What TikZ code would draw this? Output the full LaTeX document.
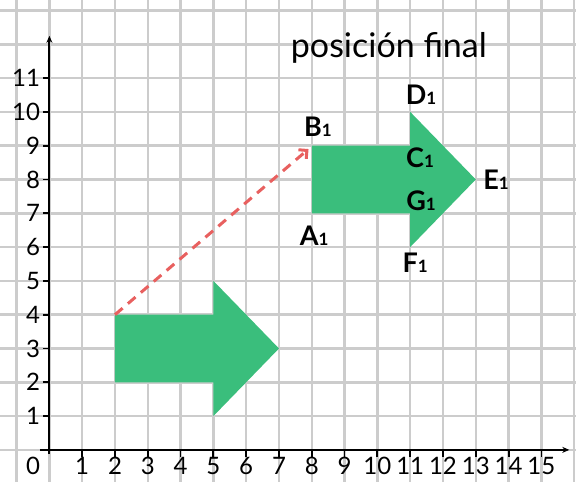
\documentclass[tikz,border=0pt]{standalone}
\usepackage{fontspec}
\setmainfont{Lato}
\usetikzlibrary{arrows.meta}
\definecolor{arrowgreen}{RGB}{58,190,124}
\definecolor{dashred}{RGB}{232,96,95}
\definecolor{gridgray}{RGB}{204,204,204}
\newcommand{\ptlab}[1]{\textbf{#1{\fontsize{17}{17}\selectfont 1}}}
\tikzset{
  gridline/.style={gridgray, line width=2.5pt},
  axisline/.style={black, line width=1.8pt},
  ticklab/.style={font=\fontsize{24}{24}\selectfont, inner sep=0pt},
  vertlab/.style={font=\fontsize{27}{27}\selectfont, inner sep=0pt},
  shapefill/.style={fill=arrowgreen, draw=none},
  translate/.style={dashred, line width=3pt, dash pattern=on 10pt off 7pt, -{Straight Barb[length=6pt,width=12pt,line width=3pt]}}
}
\begin{document}
\begin{tikzpicture}[x=32.8pt,y=33.8pt]
\useasboundingbox (-1.506,-0.923) rectangle (16.055,13.31);
% grid
\foreach \i in {-1,...,16} \draw[gridline] (\i,-1) -- (\i,13.4);
\foreach \j in {-1,...,13} \draw[gridline] (-1.6,\j) -- (16.1,\j);
% shapes
\fill[shapefill] (2,2) -- (5,2) -- (5,1) -- (7,3) -- (5,5) -- (5,4) -- (2,4) -- cycle;
\fill[shapefill] (8,7) -- (11,7) -- (11,6) -- (13,8) -- (11,10) -- (11,9) -- (8,9) -- cycle;
% axes
\coordinate (xs) at (-0.29,0);
\coordinate (xe) at (15.85,0);
\coordinate (ys) at (0,-0.12);
\coordinate (ye) at (0,12.25);
\draw[axisline, -{Stealth[length=7pt,width=6pt]}] (xs) -- (xe);
\draw[axisline, -{Stealth[length=7pt,width=6pt]}] (ys) -- (ye);
\foreach \i in {1,...,15} {
  \draw[axisline] (\i,0) -- (\i,-0.2);
  \node[ticklab] at (\i,-0.47) {\i};
}
\foreach \j in {1,...,11} {
  \draw[axisline] (0,\j) -- (-0.2,\j);
  \node[ticklab, anchor=east] at (-0.28,\j) {\j};
}
\node[ticklab] (o) at (-0.5,-0.47) {0};
% translation vector
\coordinate (p0) at (2,4);
\coordinate (p1) at (7.9,8.9);
\draw[translate] (p0) -- (p1);
% labels
\node[vertlab] (B) at (8.19,9.55) {\ptlab{B}};
\node[vertlab] (A) at (8.07,6.33) {\ptlab{A}};
\node[vertlab] (D) at (11.33,10.52) {\ptlab{D}};
\node[vertlab] (C) at (11.3,8.63) {\ptlab{C}};
\node[vertlab] (G) at (11.33,7.36) {\ptlab{G}};
\node[vertlab] (F) at (11.15,5.53) {\ptlab{F}};
\node[vertlab] (E) at (13.62,7.98) {\ptlab{E}};
\node[font=\fontsize{34}{34}\selectfont, inner sep=0pt] (t) at (10.35,11.9) {posición final};
\end{tikzpicture}
\end{document}
